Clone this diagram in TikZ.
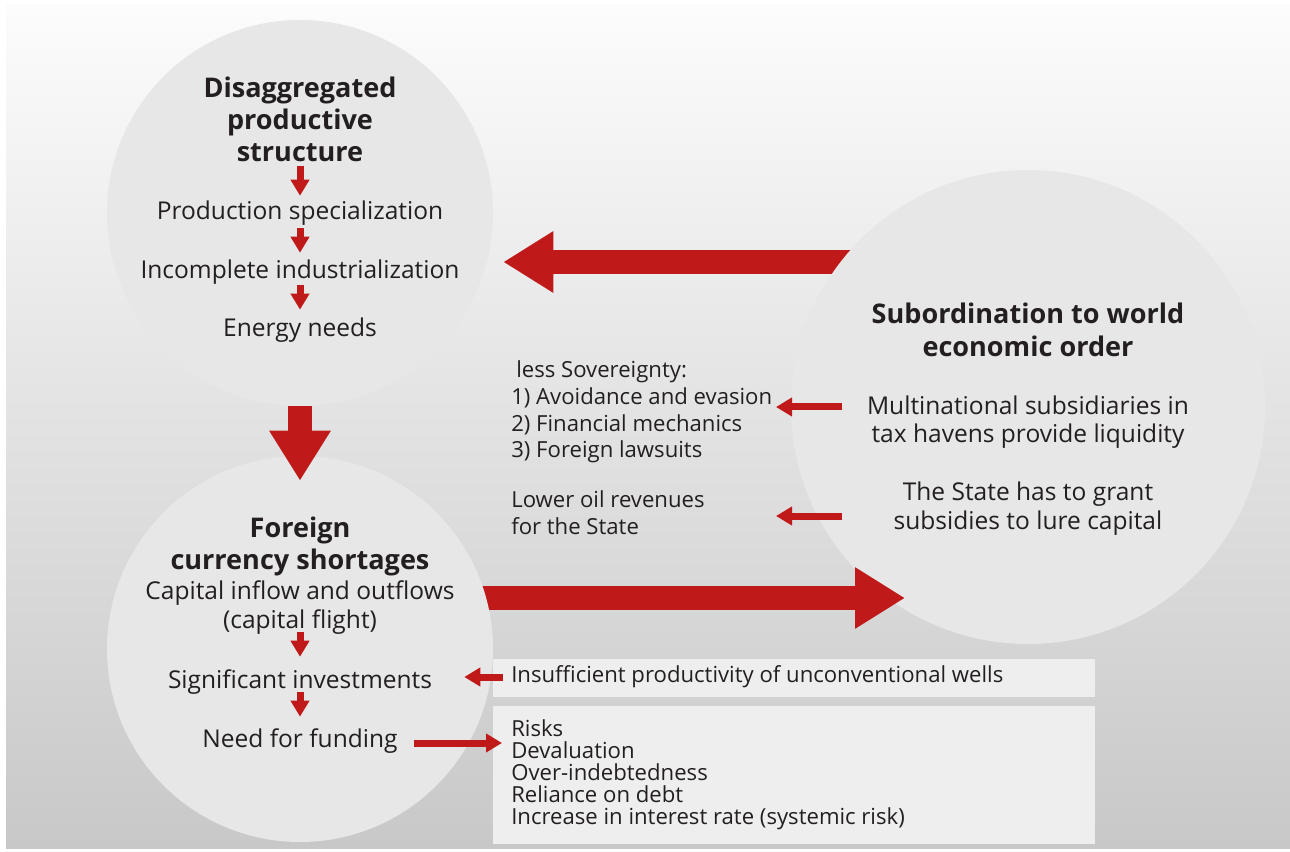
\documentclass[tikz,border=0pt]{standalone}
\usepackage{fontspec}
\setmainfont{Open Sans}
\usetikzlibrary{arrows.meta,calc}
\definecolor{ink}{RGB}{35,31,32}
\definecolor{redA}{RGB}{192,25,26}
\definecolor{circ}{RGB}{231,231,231}
\definecolor{boxc}{RGB}{238,238,238}
\definecolor{bgtop}{RGB}{252,252,252}
\definecolor{bgbot}{RGB}{200,200,200}
\begin{document}
\begin{tikzpicture}[x=0.75pt,y=-0.75pt,
  bubble/.style={circle, fill=circ, draw=none, inner sep=0pt},
  txt/.style={text=ink, inner sep=0pt, font=\fontsize{16.6}{20}\selectfont},
  ctxt/.style={text=ink, inner sep=0pt, align=center, font=\fontsize{18.4}{21}\selectfont},
  line/.style={text=ink, inner sep=0pt, font=\fontsize{18.4}{21}\selectfont, text height=15.2pt, text depth=2.7pt},
  head/.style={text=ink, inner sep=0pt, align=center, font=\fontsize{20.3}{24}\selectfont\bfseries},
  barr/.style={draw=redA, line width=18pt, -{Triangle[width=43.5pt,length=37.5pt]}},
  sarr/.style={draw=redA, line width=5.25pt, -{Triangle[width=13.5pt,length=12pt]}},
  panel/.style={fill=boxc, draw=none, inner sep=0pt, anchor=north west}]
\useasboundingbox (0,0) rectangle (1290,852);
\fill[white] (0,0) rectangle (1290,852);
\shade[top color=bgtop, bottom color=bgbot] (6,5) rectangle (1290,848);

% circles and big arrows (drawing order matters)
\node[bubble, minimum size=289.5pt] (tl) at (300,213) {};
\coordinate (a1s) at (880,262);
\draw[barr, shorten >=7.5pt] (a1s) -- (a1s -| tl.east);
\node[bubble, minimum size=355.5pt] (rc) at (1028,407) {};
\coordinate (a2s) at (420,598);
\coordinate (a2e) at (905,598);
\draw[barr] (a2s) -- (a2e);
\node[bubble, minimum size=289.5pt] (bl) at (300,649) {};
\draw[barr] (tl.south) -- ([yshift=-18.75pt]bl.north);

% panels
\node[panel, minimum width=451.5pt, minimum height=28.5pt] (box1) at (493,659) {};
\node[panel, minimum width=451.5pt, minimum height=103.5pt] (box2) at (493,706) {};

% top-left circle
\node[head] (h1) at (300,119) {Disaggregated\\productive\\structure};
\node[line] (p1) at (300,211) {Production specialization};
\node[line] (p2) at (300,270) {Incomplete industrialization};
\node[line] (p3) at (300,328) {Energy needs};
\draw[sarr, shorten <=3pt, shorten >=2.3pt] (h1.south) -- (p1);
\draw[sarr, shorten <=3.8pt, shorten >=3.8pt] (p1) -- (p2);
\draw[sarr, shorten <=2.3pt, shorten >=4.6pt] (p2) -- (p3);

% bottom-left circle
\node[head] (f1) at (300,546) {Foreign\\currency shortages};
\node[line] (c1) at (300,591) {Capital inflow and outflows};
\node[line] (c2) at (300,620) {(capital flight)};
\node[line] (s1) at (300,680) {Significant investments};
\node[line] (n1) at (300,739) {Need for funding};
\draw[sarr, shorten <=0pt, shorten >=8.3pt] (c2) -- (s1);
\draw[sarr, shorten <=0pt, shorten >=7.6pt] (s1) -- (n1);

% right circle
\node[head, font=\fontsize{20.3}{24.75}\selectfont\bfseries] (rh) at (1028,330) {Subordination to world\\economic order};
\node[ctxt] (m1) at (1028,422) {Multinational subsidiaries in\\tax havens provide liquidity};
\node[ctxt, font=\fontsize{18.4}{21.75}\selectfont] (m2) at (1028,509) {The State has to grant\\subsidies to lure capital};

% middle texts
\node[txt, align=left, anchor=west] (sov) at (511,412) {\hspace*{3.75pt}less Sovereignty:\\1) Avoidance and evasion\\2) Financial mechanics\\3) Foreign lawsuits};
\node[txt, align=left, anchor=west, font=\fontsize{16.6}{20.25}\selectfont] (oil) at (511,513) {Lower oil revenues\\for the State};
\coordinate (r1s) at (842,407);
\coordinate (r1e) at (776,407);
\coordinate (r2s) at (842,516);
\coordinate (r2e) at (776,516);
\draw[sarr] (r1s) -- (r1e);
\draw[sarr] (r2s) -- (r2e);

% panel texts
\node[txt, anchor=west, text height=12.4pt, text depth=3.8pt] (ins) at (511,677) {Insufficient productivity of unconventional wells};
\node[txt, align=left, anchor=west, font=\fontsize{16.6}{16.5}\selectfont] (risk) at (511,775) {Risks\\Devaluation\\Over-indebtedness\\Reliance on debt\\Increase in interest rate (systemic risk)};
\draw[sarr, shorten <=6pt, shorten >=24pt] (ins.west) -- (ins.west -| s1.east);
\draw[sarr, shorten <=12pt, shorten >=6.75pt] ([yshift=-3pt]n1.east) -- ([yshift=-3pt]n1.east -| risk.west);
\end{tikzpicture}
\end{document}
